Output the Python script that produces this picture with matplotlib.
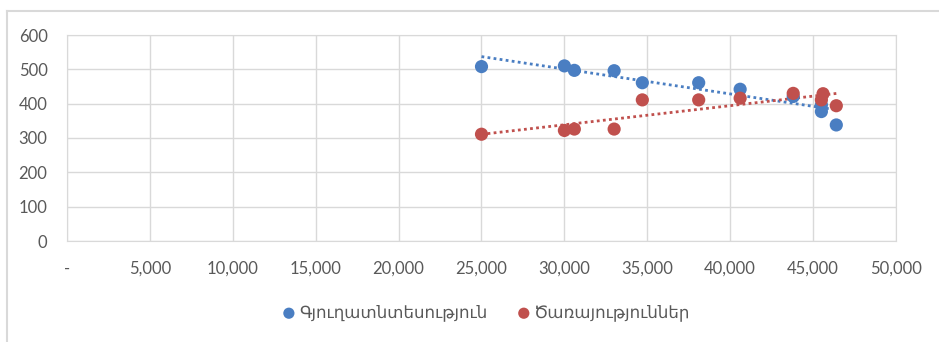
import numpy as np
import matplotlib.pyplot as plt
from matplotlib.ticker import FuncFormatter

plt.rcParams['font.family'] = ['Lato', 'DejaVu Sans']

# Գյուղատնտեսություն (agriculture)
x_agri = [25000, 30000, 30600, 33000, 34700, 38100, 40600, 43800, 45500, 45500, 46400]
y_agri = [508, 510, 497, 496, 461, 461, 442, 421, 396, 377, 338]
# Ծառայություններ (services)
x_serv = [25000, 30000, 30600, 33000, 34700, 38100, 40600, 43800, 45600, 45500, 46400]
y_serv = [311, 322, 326, 326, 411, 411, 416, 430, 429, 411, 394]

labels = ['Գյուղատնտեսություն', 'Ծառայություններ']
colors = ['#4a7ec2', '#c0504d']

fig = plt.figure(figsize=(9.39, 3.42), dpi=100)
ax = fig.add_axes([67/939, 1-241/342, (896-67)/939, (241-35)/342])

for xs, ys, lab, c in zip([x_agri, x_serv], [y_agri, y_serv], labels, colors):
    ax.scatter(xs, ys, s=90, color=c, label=lab, zorder=3, edgecolors='none')
    k, b = np.polyfit(xs, ys, 1)
    xx = np.array([min(xs), max(xs)])
    ax.plot(xx, k*xx + b, color=c, lw=2, ls=(0, (1, 1.2)), zorder=2)

ax.set_xlim(0, 50000)
ax.set_ylim(0, 600)
ax.set_xticks(np.arange(0, 50001, 5000))
ax.set_yticks(np.arange(0, 601, 100))
ax.xaxis.set_major_formatter(FuncFormatter(lambda v, p: '-' if v == 0 else f'{int(v):,}'))
ax.grid(True, color='#d9d9d9', lw=1)
ax.set_axisbelow(True)
for s in ax.spines.values():
    s.set_color('#d9d9d9')
ax.tick_params(length=0, labelsize=12, labelcolor='#595959')
ax.tick_params(axis='x', pad=14)
ax.tick_params(axis='y', pad=14)

leg = fig.legend(loc='center', bbox_to_anchor=(0.516, 1-313/342), ncol=2, frameon=False,
                 fontsize=12, handletextpad=0.0, handlelength=1.2, columnspacing=1.6,
                 markerscale=0.85)
for t in leg.get_texts():
    t.set_color('#595959')

# chart frame
fig.add_artist(plt.Line2D([7/939, 7/939], [0, 1-11/342], color='#d9d9d9', lw=1.5))
fig.add_artist(plt.Line2D([7/939, 1], [1-11/342, 1-11/342], color='#d9d9d9', lw=1.5))

fig.savefig('out.png', dpi=100)
